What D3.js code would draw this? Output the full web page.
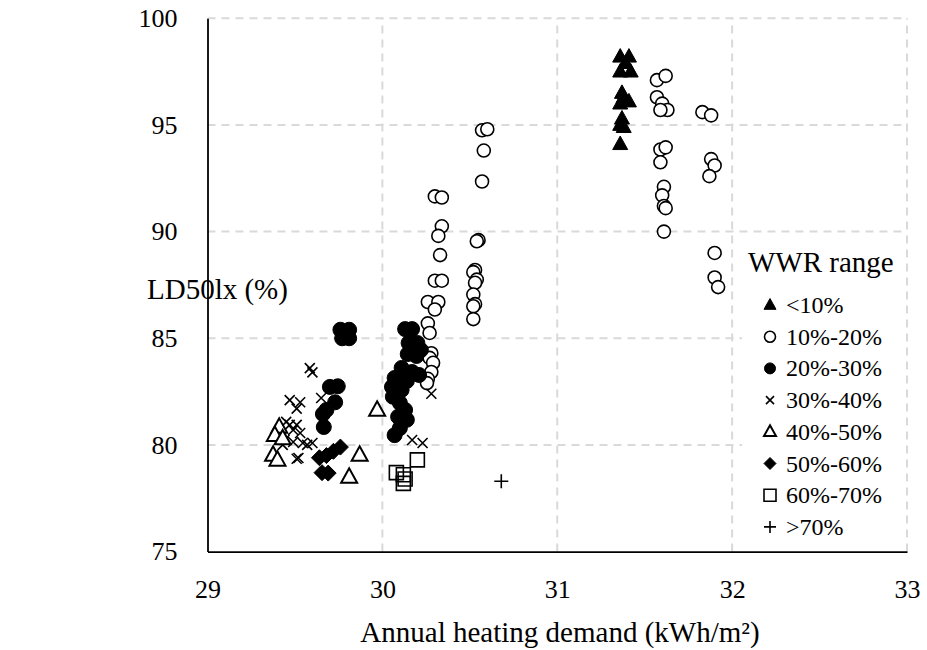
<!DOCTYPE html>
<html>
<head>
<meta charset="utf-8">
<script src="https://cdn.jsdelivr.net/npm/d3@7"></script>
<style>
  html, body { margin: 0; padding: 0; background: #fff; }
  svg text { font-family: "Liberation Serif", "DejaVu Serif", serif; fill: #000; }
</style>
</head>
<body>
<svg id="chart" width="927" height="650"></svg>
<script>
// Annual heating demand (kWh/m²) vs LD50lx (%), grouped by window-to-wall ratio
const wwrBelow10 = [[31.36,98.2],[31.41,98.2],[31.39,97.9],[31.36,97.5],[31.42,97.5],[31.37,96.5],[31.38,96.3],[31.41,96.1],[31.36,96.0],[31.37,95.3],[31.36,95.0],[31.38,94.9],[31.36,94.1]];
const wwr10to20 = [
  [31.57,97.1],[31.62,97.3],[31.57,96.3],[31.60,96.0],[31.63,95.7],[31.59,95.7],[31.83,95.6],[31.88,95.45],
  [31.59,93.85],[31.62,93.95],[31.59,93.25],[31.88,93.4],[31.90,93.1],[31.87,92.6],[31.61,92.1],[31.60,91.7],
  [31.61,91.2],[31.62,91.1],[31.61,90.0],[31.90,89.0],[31.90,87.85],[31.92,87.4],
  [30.57,94.75],[30.60,94.8],[30.58,93.8],[30.57,92.35],[30.30,91.65],[30.34,91.6],[30.34,90.25],[30.32,89.8],
  [30.33,88.9],[30.30,87.7],[30.34,87.7],[30.26,86.7],[30.32,86.7],[30.30,86.35],[30.55,89.6],[30.54,89.55],
  [30.53,88.2],[30.52,88.1],[30.54,87.75],[30.53,87.6],[30.52,87.05],[30.53,86.6],[30.52,86.5],[30.52,85.9],
  [30.26,85.7],[30.27,85.25],[30.28,84.3],[30.27,84.08],[30.29,83.85],[30.28,83.42],[30.26,83.1],[30.255,82.9]
];
const wwr20to30 = [
  [30.13,85.43],[30.17,85.43],[30.15,84.78],[30.20,84.78],[30.18,84.45],[30.22,84.45],[30.145,84.26],[30.195,84.17],
  [30.11,83.61],[30.17,83.42],[30.21,83.28],[30.07,83.14],[30.14,83.0],[30.055,82.72],[30.11,82.58],[30.06,82.26],
  [30.10,81.97],[30.13,81.64],[30.09,81.32],[30.14,81.18],[30.10,80.79],[30.07,80.46],
  [29.76,85.4],[29.81,85.4],[29.77,85.0],[29.81,85.0],[29.70,82.72],[29.745,82.75],[29.73,82.0],[29.66,81.45],
  [29.68,81.64],[29.665,80.84]
];
const wwr30to40 = [
  [29.585,83.6],[29.60,83.4],[29.47,82.1],[29.53,82.0],[29.51,81.7],[29.65,82.2],[29.45,81.08],[29.47,80.94],
  [29.49,80.7],[29.51,80.94],[29.53,80.56],[29.44,80.23],[29.43,80.0],[29.49,80.14],[29.545,80.09],[29.57,80.0],
  [29.60,80.09],[29.52,79.39],[29.51,79.35],[30.17,80.23],[30.23,80.09],[30.28,82.4]
];
const wwr40to50 = [[29.375,79.53],[29.40,79.3],[29.41,80.84],[29.385,80.46],[29.43,80.3],[29.97,81.64],[29.87,79.53],[29.81,78.5]];
const wwr50to60 = [[29.76,79.9],[29.72,79.7],[29.68,79.5],[29.64,79.4],[29.655,78.7],[29.69,78.68]];
const wwr60to70 = [[30.20,79.3],[30.08,78.7],[30.12,78.6],[30.13,78.4],[30.12,78.2]];
const wwrAbove70 = [[30.68,78.3]];

const seriesNames = ["<10%","10%-20%","20%-30%","30%-40%","40%-50%","50%-60%","60%-70%",">70%"];
const xTicks = [29,30,31,32,33];
const yTicks = [75,80,85,90,95,100];

const serif = '"Liberation Serif", "DejaVu Serif", serif';
const svg = d3.select("#chart");
const x = d3.scaleLinear().domain([29,33]).range([207.5,907]);
const y = d3.scaleLinear().domain([75,100]).range([551.6,18.3]);

// marker path generators, s = nominal marker size in px
const shapes = {
  triUp:  s => { const h = s*0.9, w = s/2; return `M0,${-h*0.6}L${w},${h*0.4}L${-w},${h*0.4}Z`; },
  circle: s => { const r = s/2; return `M${r},0A${r},${r},0,1,1,${-r},0A${r},${r},0,1,1,${r},0Z`; },
  xMark:  s => { const r = s/2; return `M${-r},${-r}L${r},${r}M${-r},${r}L${r},${-r}`; },
  diamond:s => { const r = s/2; return `M0,${-r}L${r},0L0,${r}L${-r},0Z`; },
  square: s => { const r = s/2; return `M${-r},${-r}H${r}V${r}H${-r}Z`; },
  plus:   s => { const r = s/2; return `M${-r},0H${r}M0,${-r}V${r}`; }
};

const series = [
  { name: seriesNames[0], data: wwrBelow10, shape: "triUp",  size: 15, fill: "#000", stroke: "#000", sw: 1 },
  { name: seriesNames[1], data: wwr10to20, shape: "circle", size: 13, fill: "#fff", stroke: "#000", sw: 1.6 },
  { name: seriesNames[2], data: wwr20to30, shape: "circle", size: 15, fill: "#000", stroke: "#000", sw: 1 },
  { name: seriesNames[3], data: wwr30to40, shape: "xMark",  size: 10, fill: "none", stroke: "#000", sw: 1.6 },
  { name: seriesNames[4], data: wwr40to50, shape: "triUp",  size: 16, fill: "#fff", stroke: "#000", sw: 2 },
  { name: seriesNames[5], data: wwr50to60, shape: "diamond",size: 16, fill: "#000", stroke: "#000", sw: 1 },
  { name: seriesNames[6], data: wwr60to70, shape: "square", size: 14, fill: "none", stroke: "#000", sw: 1.6 },
  { name: seriesNames[7], data: wwrAbove70, shape: "plus",  size: 14, fill: "none", stroke: "#000", sw: 1.6 }
];

// gridlines
const grid = svg.append("g").attr("stroke", "#d9d9d9").attr("stroke-width", 2).attr("stroke-dasharray", "8,6");
grid.selectAll("line.h").data(yTicks.filter(t => t > 75)).join("line")
  .attr("x1", x(29)).attr("x2", x(33)).attr("y1", d => y(d)).attr("y2", d => y(d));
grid.selectAll("line.v").data(xTicks.filter(t => t > 29)).join("line")
  .attr("y1", y(75)).attr("y2", y(100)).attr("x1", d => x(d)).attr("x2", d => x(d));

// axes
const xAxis = d3.axisBottom(x).tickValues(xTicks).tickSize(0).tickPadding(28).tickFormat(d3.format("d"));
const yAxis = d3.axisLeft(y).tickValues(yTicks).tickSize(0).tickPadding(30).tickFormat(d3.format("d"));
const gx = svg.append("g").attr("transform", `translate(0,${y(75)})`).call(xAxis);
const gy = svg.append("g").attr("transform", `translate(${x(29)},0)`).call(yAxis);
[gx, gy].forEach(g => {
  g.attr("font-family", serif).attr("font-size", 26);
  g.select(".domain").attr("stroke", "#000").attr("stroke-width", 1.8);
  g.selectAll("text").attr("font-family", serif).attr("font-size", 26).attr("fill", "#000");
});
gx.selectAll("text").attr("dy", "0.71em");

// axis titles
svg.append("text").attr("x", 560).attr("y", 642).attr("text-anchor", "middle")
  .attr("font-size", 29).text("Annual heating demand (kWh/m²)");
svg.append("text").attr("x", 147).attr("y", 299).attr("text-anchor", "start")
  .attr("font-size", 29).text("LD50lx (%)");

// points
const plot = svg.append("g");
series.forEach(s => {
  plot.append("g").selectAll("path").data(s.data).join("path")
    .attr("transform", d => `translate(${x(d[0])},${y(d[1])})`)
    .attr("d", shapes[s.shape](s.size))
    .attr("fill", s.fill).attr("stroke", s.stroke).attr("stroke-width", s.sw);
});

// legend
const lg = svg.append("g").attr("transform", "translate(742,240)");
lg.append("rect").attr("x", 0).attr("y", 0).attr("width", 162).attr("height", 306).attr("fill", "#fff");
lg.append("text").attr("x", 6).attr("y", 32).attr("font-size", 29).text("WWR range");
series.forEach((s, i) => {
  const cy = 65 + i * 31.7;
  lg.append("path").attr("transform", `translate(28,${cy})`)
    .attr("d", shapes[s.shape](s.shape === "xMark" ? 8 : (s.shape === "circle" ? 11 : 12)))
    .attr("fill", s.fill).attr("stroke", s.stroke).attr("stroke-width", s.sw);
  lg.append("text").attr("x", 44).attr("y", cy + 8).attr("font-size", 24).text(s.name);
});
</script>
</body>
</html>
